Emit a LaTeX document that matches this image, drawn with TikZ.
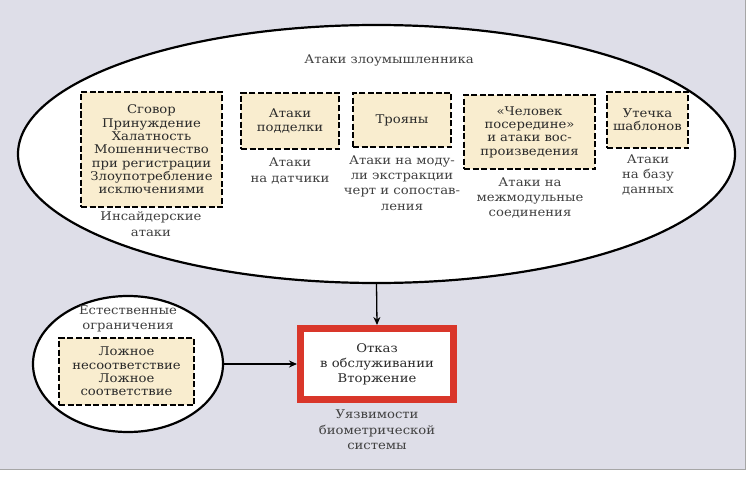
\documentclass[tikz,border=0pt]{standalone}
\usepackage{fontspec}
\setmainfont{DejaVu Serif}[FakeStretch=1.1]
\newfontfamily\boxfont{DejaVu Serif}[FakeStretch=1.1]
\usetikzlibrary{shapes.geometric,arrows.meta}
\definecolor{bgc}{HTML}{DEDEE8}
\definecolor{boxfill}{HTML}{F9EDCF}
\definecolor{txt}{HTML}{2A2A2A}
\definecolor{lbl}{HTML}{404040}
\definecolor{redb}{HTML}{D9362A}
\tikzset{
  dbox/.style={draw=black, fill=boxfill, line width=2.4pt, dash pattern=on 6pt off 2.5pt,
    inner sep=0pt, align=center, text=txt, font=\boxfont\fontsize{12}{13.3}\selectfont},
  lab/.style={align=center, text=lbl, inner sep=0pt, font=\fontsize{12}{15.3}\selectfont},
  oval/.style={draw=black, fill=white, line width=2.2pt, ellipse, inner sep=0pt},
  conn/.style={line width=1.3pt, -{Stealth[length=8pt,width=7pt]}},
}
\begin{document}
\begin{tikzpicture}[x=1pt,y=-1pt]
\useasboundingbox (0,0) rectangle (751,476);
\fill[white] (0,0) rectangle (751,476);
\fill[bgc] (0,0) rectangle (745,469);
\draw[gray!70, line width=1pt] (745,0) -- (745,469) -- (0,469);
% big ellipse
\node[oval, minimum width=717pt, minimum height=258pt] (atk) at (376.5,154) {};
\node[lab] (atkt) at (389,60) {Атаки злоумышленника};
% boxes
\node[dbox, minimum width=141pt, minimum height=115pt] (b1) at (151.5,149.5)
  {Сговор\\Принуждение\\Халатность\\Мошенничество\\при регистрации\\Злоупотребление\\исключениями};
\node[lab] (l1) at (151,224) {Инсайдерские\\атаки};
\node[dbox, minimum width=98pt, minimum height=56pt] (b2) at (290,121) {Атаки\\подделки};
\node[lab] (l2) at (290,171) {Атаки\\на датчики};
\node[dbox, minimum width=98pt, minimum height=54pt] (b3) at (402,120) {Трояны};
\node[lab] (l3) at (402,183) {Атаки на моду-\\ли экстракции\\черт и сопостав-\\ления};
\node[dbox, minimum width=131pt, minimum height=74pt] (b4) at (529.5,132) {«Человек\\посередине»\\и атаки вос-\\произведения};
\node[lab] (l4) at (530,198) {Атаки на\\межмодульные\\соединения};
\node[dbox, minimum width=81pt, minimum height=56pt] (b5) at (647.5,120) {Утечка\\шаблонов};
\node[lab] (l5) at (648,175) {Атаки\\на базу\\данных};
% natural limits
\node[oval, minimum width=190pt, minimum height=136pt] (nat) at (128,364) {};
\node[lab] (natt) at (128,319) {Естественные\\ограничения};
\node[dbox, minimum width=135pt, minimum height=67pt] (b6) at (126.5,371.5) {Ложное\\несоответствие\\Ложное\\соответствие};
% red box
\node[draw=redb, fill=white, line width=7pt, minimum width=153pt, minimum height=71pt,
  align=center, text=txt, inner sep=0pt, font=\fontsize{12}{15}\selectfont] (red) at (377,364)
  {Отказ\\в обслуживании\\Вторжение};
\node[lab] (redl) at (377,430) {Уязвимости\\биометрической\\системы};
% connectors
\draw[conn] (atk.south) -- (red.north);
\draw[conn] (nat.east) -- (red.west);
\end{tikzpicture}
\end{document}
